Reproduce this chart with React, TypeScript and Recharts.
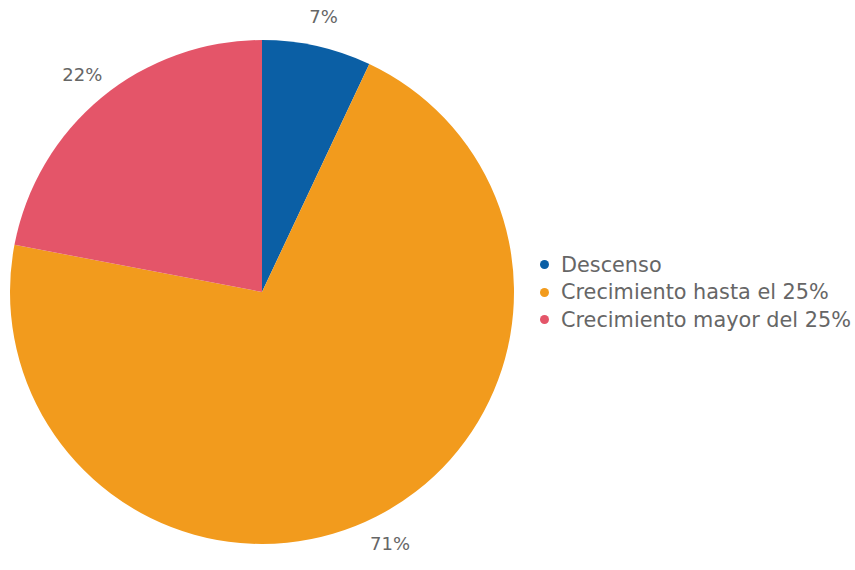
import { Cell, Legend, Pie, PieChart } from "recharts";

const categories = ["Descenso", "Crecimiento hasta el 25%", "Crecimiento mayor del 25%"];
const shares = [7, 71, 22];
const colors = ["#0b5fa5", "#f29b1d", "#e45569"];

const data = categories.map((name, i) => ({ name, value: shares[i] }));

const RADIAN = Math.PI / 180;

function renderLabel({ cx, cy, midAngle, outerRadius, value }: any) {
  const r = outerRadius + 30;
  const x = cx + r * Math.cos(-midAngle * RADIAN);
  const y = cy + r * Math.sin(-midAngle * RADIAN);
  return (
    <text
      x={x}
      y={y}
      fill="#666"
      fontSize={18}
      fontFamily="'DejaVu Sans', sans-serif"
      textAnchor="middle"
      dominantBaseline="central"
    >
      {`${value}%`}
    </text>
  );
}

function LegendList() {
  return (
    <ul style={{ listStyle: "none", margin: 0, padding: 0 }}>
      {data.map((d, i) => (
        <li
          key={d.name}
          style={{
            display: "flex",
            alignItems: "center",
            height: 27.5,
            fontFamily: "'DejaVu Sans', sans-serif",
            fontSize: 20.8,
            color: "#666",
            whiteSpace: "nowrap",
          }}
        >
          <span
            style={{
              display: "inline-block",
              width: 9,
              height: 9,
              borderRadius: "50%",
              background: colors[i],
              marginRight: 12,
            }}
          />
          {d.name}
        </li>
      ))}
    </ul>
  );
}

export default function App() {
  return (
    <div style={{ position: "absolute", left: 0, top: 0, background: "#fff" }}>
      <PieChart width={855} height={570} margin={{ top: 0, right: 0, bottom: 0, left: 0 }}>
        <Pie
          data={data}
          dataKey="value"
          nameKey="name"
          cx={262}
          cy={292}
          outerRadius={252}
          startAngle={90}
          endAngle={-270}
          stroke="none"
          label={renderLabel}
          labelLine={false}
          isAnimationActive={false}
        >
          {data.map((d, i) => (
            <Cell key={d.name} fill={colors[i]} />
          ))}
        </Pie>
        <Legend
          content={<LegendList />}
          wrapperStyle={{ left: 540, top: 251, width: 315 }}
        />
      </PieChart>
    </div>
  );
}
